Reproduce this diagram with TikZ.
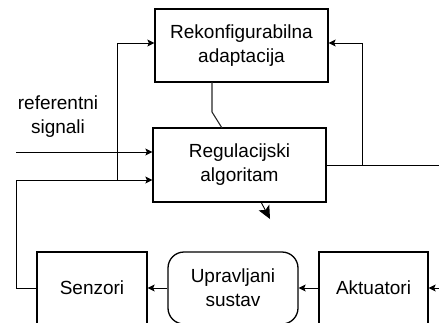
\documentclass[tikz,border=0pt]{standalone}
\usepackage{fontspec}
\setmainfont{Liberation Sans}
\usetikzlibrary{arrows.meta}
\begin{document}
\begin{tikzpicture}[x=1pt,y=-1pt,
  blok/.style={draw,line width=1.3pt,inner sep=0pt,align=center,
    font=\fontsize{19}{24}\selectfont},
  conn/.style={line width=0.9pt},
  arr/.style={conn,-{Stealth[length=7pt,width=7pt,inset=1.5pt]}},
  lbl/.style={align=center,inner sep=0pt,font=\fontsize{19}{24}\selectfont}]
\useasboundingbox (0,0) rectangle (439,322);
\clip (0,0) rectangle (439,322);

% blocks
\node[blok,minimum width=173pt,minimum height=73pt] (rek) at (241.5,45.5)
  {Rekonfigurabilna\\adaptacija};
\node[blok,minimum width=173pt,minimum height=74pt] (reg) at (239.5,165)
  {Regulacijski\\algoritam};
\node[blok,minimum width=110pt,minimum height=72pt] (sen) at (92,288) {Senzori};
\node[blok,minimum width=130pt,minimum height=72pt,rounded corners=16pt] (ups) at (233,288)
  {Upravljani\\sustav};
\node[blok,minimum width=109pt,minimum height=72pt] (akt) at (373.5,288) {Aktuatori};

\node[lbl] (ref) at (58,117) {referentni\\signali};

% reference input
\coordinate (refin) at (16,152);
\draw[arr] (refin) -- (refin -| reg.west);

% feedback from sensors
\coordinate (fbL) at (16,288);
\coordinate (fbT) at (16,180);
\draw[arr] (sen.west) -- (fbL) -- (fbT) -- (fbT -| reg.west);

% branch to adaptation block
\coordinate (jn) at (117,180);
\coordinate (jt) at (117,43);
\draw[arr] (jn) -- (jt) -- (jt -| rek.west);

% controller output and branch back to adaptation
\coordinate (rout) at (439,165);
\draw[conn] (reg.east) -- (rout);
\coordinate (rj) at (362,165);
\coordinate (rt) at (362,43);
\draw[arr] (rj) -- (rt) -- (rt -| rek.east);

% plant chain
\coordinate (ain) at (439,288);
\draw[arr] (ain) -- (akt.east);
\draw[arr] (akt.west) -- (ups.east);
\draw[arr] (ups.west) -- (sen.east);

% adaptation link
\coordinate (k0) at (212,82);
\coordinate (k1) at (212,112);
\coordinate (k2) at (222,128);
\draw[line width=1.1pt,black!85] (k0) -- (k1) -- (k2);

% reconfiguration output
\coordinate (ut) at (261,202);
\coordinate (uo) at (270,219);
\draw[conn,-{Stealth[length=13pt,width=12pt,inset=3pt]}] (ut) -- (uo);
\end{tikzpicture}
\end{document}
